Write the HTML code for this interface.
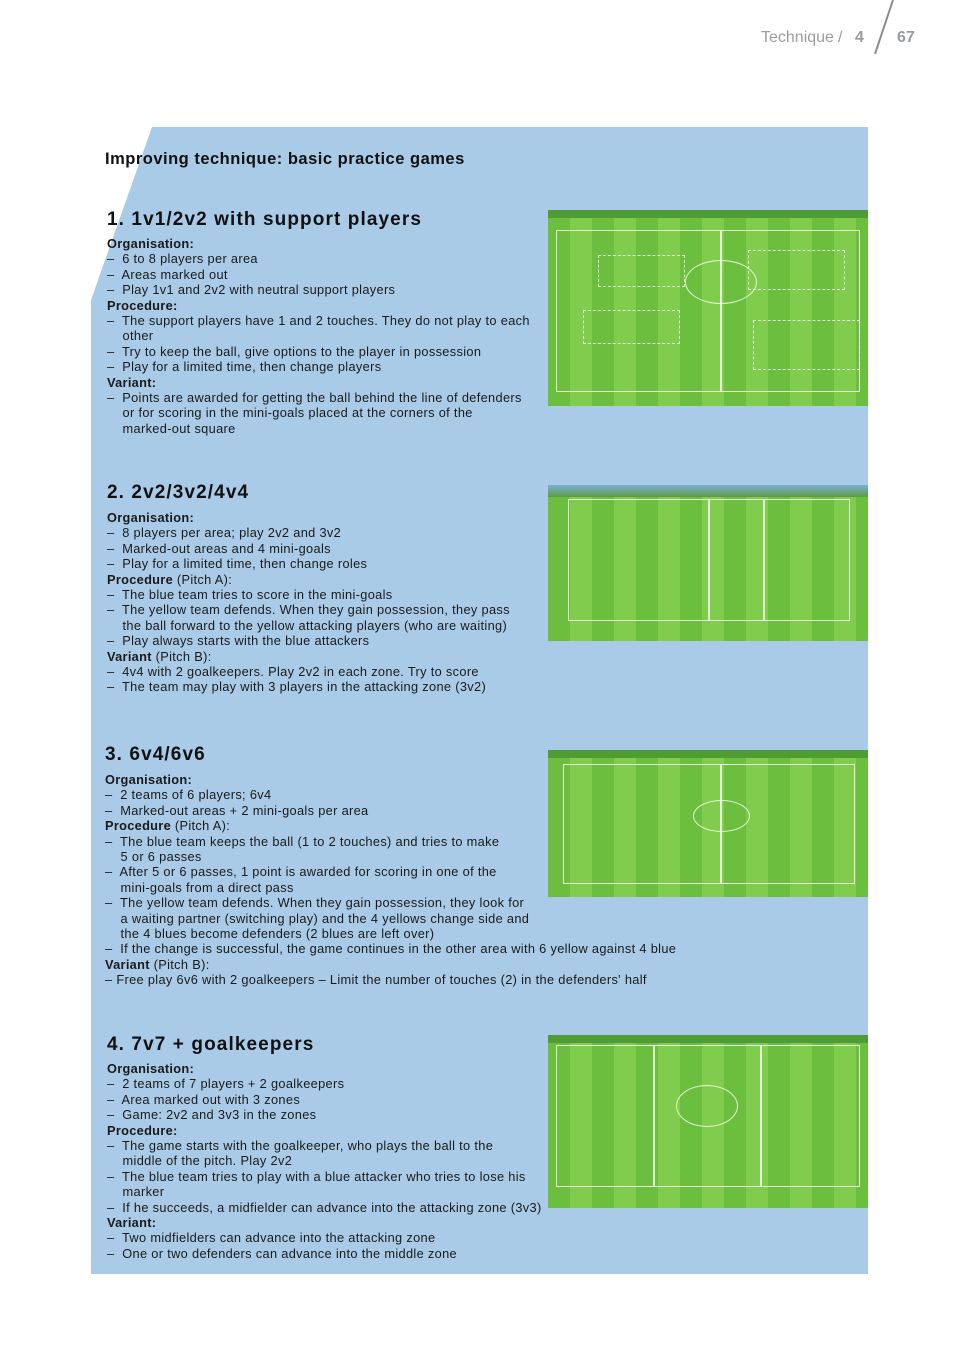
<!DOCTYPE html>
<html><head><meta charset="utf-8"><style>
body{margin:0;width:959px;height:1356px;background:#fff;position:relative;overflow:hidden;font-family:"Liberation Sans",sans-serif}
.panel{position:absolute;left:91px;top:127px;width:777px;height:1147px;background:#a9cbe8;clip-path:polygon(61px 0,100% 0,100% 100%,0 100%,0 173px)}
.t{position:absolute;font-size:12.8px;letter-spacing:0.33px;line-height:15.4px;color:#1a1a1a;white-space:pre}
.t b{font-weight:bold;letter-spacing:0.3px}
.h{position:absolute;font-size:19px;letter-spacing:1.1px;font-weight:bold;color:#111}
.pitch{position:absolute;left:548px;width:320px;background:repeating-linear-gradient(90deg,#6cbf3e 0 22px,#80cc4c 22px 44px);overflow:hidden}
.pitch .band{position:absolute;left:0;right:0;top:0;height:8px;background:#4f9b34}
.pitch .ln{position:absolute;border:1px solid rgba(255,255,255,.8)}
.pitch .c{position:absolute;border:1px solid rgba(255,255,255,.8);border-radius:50%}
.hd{position:absolute;top:29px;font-size:16px;color:#9a9da0}
</style></head><body>
<div class="hd" style="left:761px">Technique</div>
<div class="hd" style="left:838px">/</div>
<div class="hd" style="left:855px;font-weight:bold">4</div>
<div class="hd" style="left:897px;font-weight:bold">67</div>
<svg style="position:absolute;left:870px;top:0" width="30" height="58"><line x1="23" y1="0" x2="5" y2="54" stroke="#8a8d90" stroke-width="2"/></svg>
<div class="panel"></div>
<div class="h" style="left:105px;top:150px;font-size:16.5px;letter-spacing:0.5px">Improving technique: basic practice games</div>

<div class="h" style="left:107px;top:209px">1. 1v1/2v2 with support players</div>
<div class="t" style="left:107px;top:236px"><b>Organisation:</b>
–  6 to 8 players per area
–  Areas marked out
–  Play 1v1 and 2v2 with neutral support players
<b>Procedure:</b>
–  The support players have 1 and 2 touches. They do not play to each
    other
–  Try to keep the ball, give options to the player in possession
–  Play for a limited time, then change players
<b>Variant:</b>
–  Points are awarded for getting the ball behind the line of defenders
    or for scoring in the mini-goals placed at the corners of the
    marked-out square</div>

<div class="h" style="left:107px;top:482px">2. 2v2/3v2/4v4</div>
<div class="t" style="left:107px;top:510px"><b>Organisation:</b>
–  8 players per area; play 2v2 and 3v2
–  Marked-out areas and 4 mini-goals
–  Play for a limited time, then change roles
<b>Procedure</b> (Pitch A):
–  The blue team tries to score in the mini-goals
–  The yellow team defends. When they gain possession, they pass
    the ball forward to the yellow attacking players (who are waiting)
–  Play always starts with the blue attackers
<b>Variant</b> (Pitch B):
–  4v4 with 2 goalkeepers. Play 2v2 in each zone. Try to score
–  The team may play with 3 players in the attacking zone (3v2)</div>

<div class="h" style="left:105px;top:744px">3. 6v4/6v6</div>
<div class="t" style="left:105px;top:772px"><b>Organisation:</b>
–  2 teams of 6 players; 6v4
–  Marked-out areas + 2 mini-goals per area
<b>Procedure</b> (Pitch A):
–  The blue team keeps the ball (1 to 2 touches) and tries to make
    5 or 6 passes
–  After 5 or 6 passes, 1 point is awarded for scoring in one of the
    mini-goals from a direct pass
–  The yellow team defends. When they gain possession, they look for
    a waiting partner (switching play) and the 4 yellows change side and
    the 4 blues become defenders (2 blues are left over)
–  If the change is successful, the game continues in the other area with 6 yellow against 4 blue
<b>Variant</b> (Pitch B):
– Free play 6v6 with 2 goalkeepers – Limit the number of touches (2) in the defenders' half</div>

<div class="h" style="left:107px;top:1034px">4. 7v7 + goalkeepers</div>
<div class="t" style="left:107px;top:1061px"><b>Organisation:</b>
–  2 teams of 7 players + 2 goalkeepers
–  Area marked out with 3 zones
–  Game: 2v2 and 3v3 in the zones
<b>Procedure:</b>
–  The game starts with the goalkeeper, who plays the ball to the
    middle of the pitch. Play 2v2
–  The blue team tries to play with a blue attacker who tries to lose his
    marker
–  If he succeeds, a midfielder can advance into the attacking zone (3v3)
<b>Variant:</b>
–  Two midfielders can advance into the attacking zone
–  One or two defenders can advance into the middle zone</div>

<div class="pitch" style="top:210px;height:196px">
<div class="band"></div>
<div class="ln" style="left:8px;top:20px;width:302px;height:160px"></div>
<div class="ln" style="left:172px;top:20px;width:0;height:160px"></div>
<div class="c" style="left:137px;top:50px;width:70px;height:42px"></div>
<div class="ln" style="left:50px;top:45px;width:85px;height:30px;border-style:dashed"></div>
<div class="ln" style="left:35px;top:100px;width:95px;height:32px;border-style:dashed"></div>
<div class="ln" style="left:200px;top:40px;width:95px;height:38px;border-style:dashed"></div>
<div class="ln" style="left:205px;top:110px;width:105px;height:48px;border-style:dashed"></div>
</div>
<div class="pitch" style="top:485px;height:156px">
<div style="position:absolute;left:0;right:0;top:0;height:12px;background:linear-gradient(#7ab0d8,#5d9a40)"></div>
<div class="ln" style="left:20px;top:14px;width:280px;height:120px"></div>
<div class="ln" style="left:215px;top:14px;width:0;height:120px"></div>
<div class="ln" style="left:160px;top:14px;width:0;height:120px"></div>
</div>
<div class="pitch" style="top:750px;height:147px">
<div class="band"></div>
<div class="ln" style="left:15px;top:14px;width:290px;height:118px"></div>
<div class="ln" style="left:172px;top:14px;width:0;height:118px"></div>
<div class="c" style="left:145px;top:50px;width:55px;height:30px"></div>
</div>
<div class="pitch" style="top:1035px;height:173px">
<div class="band"></div>
<div class="ln" style="left:8px;top:10px;width:302px;height:140px"></div>
<div class="ln" style="left:105px;top:10px;width:0;height:140px"></div>
<div class="ln" style="left:212px;top:10px;width:0;height:140px"></div>
<div class="c" style="left:128px;top:50px;width:60px;height:40px"></div>
</div>
</body></html>
